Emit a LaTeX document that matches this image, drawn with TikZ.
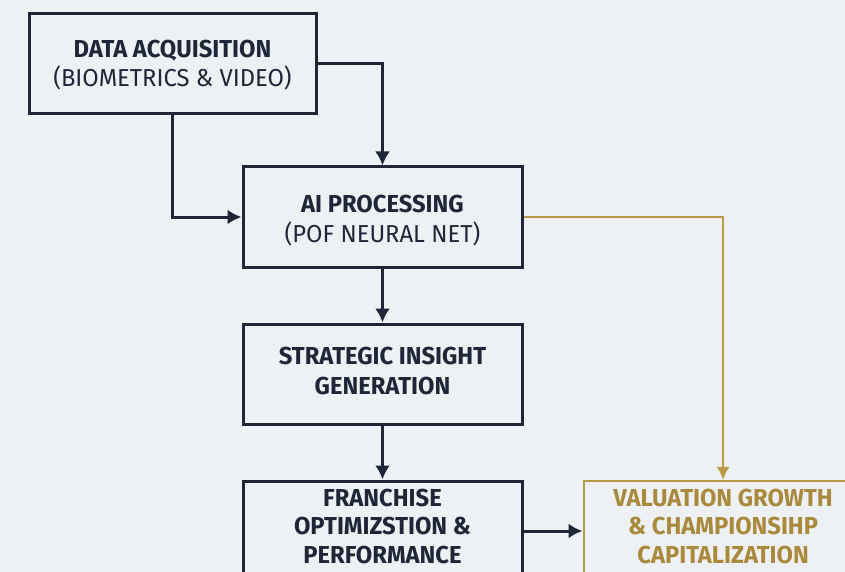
\documentclass[tikz,border=0pt]{standalone}
\usepackage{fontspec}
\setmainfont{Fira Sans}[FakeStretch=0.97]
\usetikzlibrary{arrows.meta}
\usetikzlibrary{positioning}
\definecolor{navy}{HTML}{1E2638}
\definecolor{gold}{HTML}{B99A4B}
\definecolor{goldtext}{HTML}{A98A3C}
\definecolor{paper}{HTML}{EEF1F3}
\tikzstyle{block} = [draw=navy, line width=3pt, fill=paper, text=navy, minimum width=279pt, minimum height=100pt, align=center, font=\fontsize{24.5}{29.5}\selectfont\bfseries]
\tikzstyle{threeline} = [font=\fontsize{24.5}{28.5}\selectfont\bfseries, text depth=10pt]
\tikzstyle{goldblock} = [block, threeline, draw=gold, line width=2.2pt, text=goldtext]
\tikzstyle{line} = [draw=navy, line width=3pt, -{Latex[length=14pt,width=15pt]}]
\tikzstyle{goldline} = [draw=gold, line width=2.2pt, -{Latex[length=13pt,width=13pt]}]

\begin{document}
\begin{tikzpicture}[x=1pt, y=-1pt]
 \fill[paper] (0,0) rectangle (845,572);
 \useasboundingbox (0,0) rectangle (845,572);
 \node [block, minimum width=287pt, text height=50pt] (acq) at (172.5,63.5) {DATA ACQUISITION\\\mdseries(BIOMETRICS \& VIDEO)};
 \node [block, text height=54pt] (proc) at (382.5,217) {AI PROCESSING\\\mdseries(POF NEURAL NET)};
 \node [block, text depth=6pt, below=54pt of proc] (insight) {STRATEGIC INSIGHT\\GENERATION};
 \node [block, threeline, below=54pt of insight] (franchise) {FRANCHISE\\OPTIMIZSTION \&\\PERFORMANCE};
 \node [goldblock, right=59pt of franchise] (valuation) {VALUATION GROWTH\\\& CHAMPIONSIHP\\CAPITALIZATION};
 \path [line] (acq.east) -| (proc.north);
 \path [line] (acq.south) |- (proc.west);
 \path [line] (proc) -- (insight);
 \path [line] (insight) -- (franchise);
 \path [line] (franchise) -- (valuation);
 \path [goldline] (proc.east) -| (valuation.north);
\end{tikzpicture}
\end{document}
